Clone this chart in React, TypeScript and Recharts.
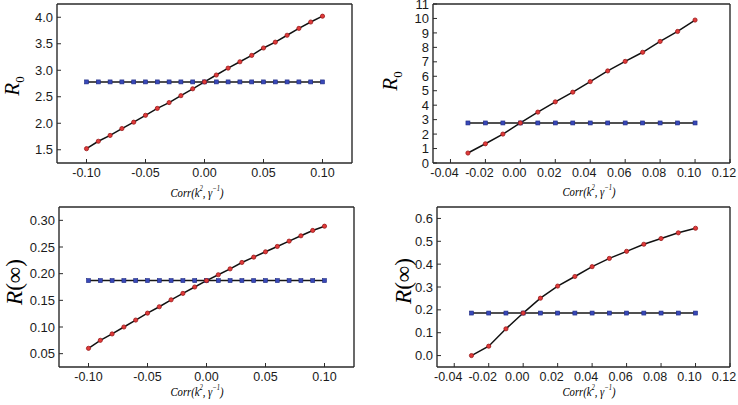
import React from 'react';
import { LineChart, Line, XAxis, YAxis } from 'recharts';

// ---------- data ----------
const xsWide = [-0.1, -0.09, -0.08, -0.07, -0.06, -0.05, -0.04, -0.03, -0.02, -0.01, 0.0, 0.01, 0.02, 0.03, 0.04, 0.05, 0.06, 0.07, 0.08, 0.09, 0.1];
const xsNarrow = [-0.03, -0.02, -0.01, 0.0, 0.01, 0.02, 0.03, 0.04, 0.05, 0.06, 0.07, 0.08, 0.09, 0.1];

const r0Wide = [1.52, 1.66, 1.77, 1.9, 2.02, 2.15, 2.28, 2.39, 2.52, 2.65, 2.78, 2.91, 3.04, 3.16, 3.28, 3.42, 3.53, 3.66, 3.79, 3.91, 4.02];
const r0WideBase = [2.78, 2.78, 2.78, 2.78, 2.78, 2.78, 2.78, 2.78, 2.78, 2.78, 2.78, 2.78, 2.78, 2.78, 2.78, 2.78, 2.78, 2.78, 2.78, 2.78, 2.78];

const r0Narrow = [0.69, 1.33, 2.0, 2.77, 3.52, 4.23, 4.9, 5.63, 6.37, 7.03, 7.66, 8.41, 9.1, 9.89];
const r0NarrowBase = [2.77, 2.77, 2.77, 2.77, 2.77, 2.77, 2.77, 2.77, 2.77, 2.77, 2.77, 2.77, 2.77, 2.77];

const rInfWide = [0.06, 0.075, 0.087, 0.1, 0.113, 0.126, 0.138, 0.151, 0.163, 0.175, 0.187, 0.198, 0.209, 0.221, 0.231, 0.241, 0.251, 0.261, 0.271, 0.281, 0.289];
const rInfWideBase = [0.187, 0.187, 0.187, 0.187, 0.187, 0.187, 0.187, 0.187, 0.187, 0.187, 0.187, 0.187, 0.187, 0.187, 0.187, 0.187, 0.187, 0.187, 0.187, 0.187, 0.187];

const rInfNarrow = [0.0, 0.041, 0.117, 0.186, 0.251, 0.304, 0.346, 0.389, 0.425, 0.456, 0.487, 0.512, 0.537, 0.557];
const rInfNarrowBase = [0.186, 0.186, 0.186, 0.186, 0.186, 0.186, 0.186, 0.186, 0.186, 0.186, 0.186, 0.186, 0.186, 0.186];

// ---------- ticks ----------
const xTicksWide = [-0.1, -0.05, 0, 0.05, 0.1];
const xMinorWide = [-0.075, -0.025, 0.025, 0.075];
const xTicksNarrow = [-0.04, -0.02, 0, 0.02, 0.04, 0.06, 0.08, 0.1, 0.12];
const xMinorNarrow = [-0.05, -0.03, -0.01, 0.01, 0.03, 0.05, 0.07, 0.09, 0.11];

const yTicksA = [1.5, 2.0, 2.5, 3.0, 3.5, 4.0];
const yMinorA = [1.75, 2.25, 2.75, 3.25, 3.75];
const yTicksB = [0, 1, 2, 3, 4, 5, 6, 7, 8, 9, 10, 11];
const yMinorB = [0.5, 1.5, 2.5, 3.5, 4.5, 5.5, 6.5, 7.5, 8.5, 9.5, 10.5];
const yTicksC = [0.05, 0.1, 0.15, 0.2, 0.25, 0.3];
const yMinorC = [0.075, 0.125, 0.175, 0.225, 0.275];
const yTicksD = [0.0, 0.1, 0.2, 0.3, 0.4, 0.5, 0.6];
const yMinorD = [-0.05, 0.05, 0.15, 0.25, 0.35, 0.45, 0.55];

const build = (xs: number[], a: number[], b: number[]) => xs.map((x, i) => ({ x, red: a[i], blue: b[i] }));

const AX = '#2a2a2a';
const xTickFont = { fontSize: 12.5, fill: '#1a1a1a', fontFamily: '"Liberation Sans", Arial, sans-serif' };
const yTickFont = { fontSize: 13, fill: '#1a1a1a', fontFamily: '"Liberation Sans", Arial, sans-serif' };

const RedDot = (p: any) => {
  if (p.cx == null || p.cy == null) return <g key={`r${p.index}`} />;
  return <circle key={`r${p.index}`} cx={p.cx} cy={p.cy} r={2.1} fill="#e03a3a" stroke="#9a1a1a" strokeWidth={0.8} />;
};
const BlueSq = (p: any) => {
  if (p.cx == null || p.cy == null) return <g key={`b${p.index}`} />;
  return <rect key={`b${p.index}`} x={p.cx - 2} y={p.cy - 2} width={4} height={4} fill="#3848b8" stroke="#1e2a80" strokeWidth={0.6} />;
};

type PanelProps = {
  left: number; top: number; width: number; height: number;
  margin: { top: number; right: number; bottom: number; left: number };
  data: { x: number; red: number; blue: number }[];
  xDomain: [number, number]; yDomain: [number, number];
  xTicks: number[]; xMinor: number[]; yTicks: number[]; yMinor: number[];
  xDigits: number; yDigits: number; xLabelDx: number;
};

function Panel(p: PanelProps) {
  const axLine = { stroke: AX, strokeWidth: 1.4 };
  const tl = { stroke: AX, strokeWidth: 1 };
  // every axis takes 1px of space; remove it from the margins so the plot area stays put
  const m = { top: p.margin.top - 2, right: p.margin.right - 2, bottom: p.margin.bottom - 2, left: p.margin.left - 2 };
  return (
    <div style={{ position: 'absolute', left: p.left, top: p.top }}>
      <LineChart width={p.width} height={p.height} data={p.data} margin={m}>
        <XAxis xAxisId="b" dataKey="x" type="number" domain={p.xDomain} allowDataOverflow ticks={p.xTicks} interval={0}
          tickFormatter={(v: number) => v.toFixed(p.xDigits)} height={1} tickSize={-4} tickMargin={9}
          axisLine={axLine} tickLine={tl} tick={{ ...xTickFont, dx: p.xLabelDx }} />
        <XAxis xAxisId="bm" dataKey="x" type="number" domain={p.xDomain} allowDataOverflow ticks={p.xMinor} interval={0}
          height={1} tickSize={-2} tick={false} axisLine={false} tickLine={tl} />
        <XAxis xAxisId="t" orientation="top" dataKey="x" type="number" domain={p.xDomain} allowDataOverflow ticks={p.xTicks} interval={0}
          height={1} tickSize={-4} tick={false} axisLine={axLine} tickLine={tl} />
        <XAxis xAxisId="tm" orientation="top" dataKey="x" type="number" domain={p.xDomain} allowDataOverflow ticks={p.xMinor} interval={0}
          height={1} tickSize={-2} tick={false} axisLine={false} tickLine={tl} />
        <YAxis yAxisId="l" type="number" domain={p.yDomain} allowDataOverflow ticks={p.yTicks} interval={0}
          tickFormatter={(v: number) => v.toFixed(p.yDigits)} width={1} tickSize={-4} tickMargin={8}
          axisLine={axLine} tickLine={tl} tick={yTickFont} />
        <YAxis yAxisId="lm" type="number" domain={p.yDomain} allowDataOverflow ticks={p.yMinor} interval={0}
          width={1} tickSize={-2} tick={false} axisLine={false} tickLine={tl} />
        <YAxis yAxisId="r" orientation="right" type="number" domain={p.yDomain} allowDataOverflow ticks={p.yTicks} interval={0}
          width={1} tickSize={-4} tick={false} axisLine={axLine} tickLine={tl} />
        <YAxis yAxisId="rm" orientation="right" type="number" domain={p.yDomain} allowDataOverflow ticks={p.yMinor} interval={0}
          width={1} tickSize={-2} tick={false} axisLine={false} tickLine={tl} />
        <Line xAxisId="b" yAxisId="l" type="linear" dataKey="blue" stroke="#161616" strokeWidth={1.5} dot={BlueSq} activeDot={false} isAnimationActive={false} />
        <Line xAxisId="b" yAxisId="l" type="linear" dataKey="red" stroke="#111111" strokeWidth={1.5} dot={RedDot} activeDot={false} isAnimationActive={false} />
      </LineChart>
    </div>
  );
}

const xTitleStyle: React.CSSProperties = {
  position: 'absolute', whiteSpace: 'nowrap', lineHeight: 1,
  fontFamily: '"Liberation Serif", "Times New Roman", serif', fontStyle: 'italic', fontSize: 13, color: '#000',
};

function XTitle({ cx, cy }: { cx: number; cy: number }) {
  return (
    <div style={{ ...xTitleStyle, left: cx, top: cy, transform: 'translate(-50%, -50%) scaleX(0.82)' }}>
      Corr(k<sup style={{ fontSize: 8 }}>2</sup>, γ<sup style={{ fontSize: 8 }}>−1</sup>)
    </div>
  );
}

function YTitle({ cx, cy, kind }: { cx: number; cy: number; kind: 'r0' | 'rinf' }) {
  return (
    <div style={{
      position: 'absolute', left: cx, top: cy, transform: 'translate(-50%, -50%) rotate(-90deg)', whiteSpace: 'nowrap',
      lineHeight: 1, fontFamily: '"Liberation Serif", "Times New Roman", serif', fontSize: kind === 'r0' ? 21 : 23, color: '#000',
    }}>
      {kind === 'r0'
        ? <span><i>R</i><sub style={{ fontSize: 13 }}>0</sub></span>
        : <span><i>R</i>(∞)</span>}
    </div>
  );
}

export default function App() {
  return (
    <div style={{ position: 'fixed', left: 0, top: 0, width: 738, height: 405, background: '#fff', overflow: 'hidden' }}>
      <Panel left={0} top={0} width={369} height={200} margin={{ top: 4, right: 17, bottom: 37, left: 57 }}
        data={build(xsWide, r0Wide, r0WideBase)} xDomain={[-0.125, 0.125]} yDomain={[1.25, 4.25]}
        xTicks={xTicksWide} xMinor={xMinorWide} yTicks={yTicksA} yMinor={yMinorA} xDigits={2} yDigits={1} xLabelDx={0} />
      <Panel left={369} top={0} width={369} height={200} margin={{ top: 4, right: 8, bottom: 37, left: 64 }}
        data={build(xsNarrow, r0Narrow, r0NarrowBase)} xDomain={[-0.05, 0.12]} yDomain={[0, 11]}
        xTicks={xTicksNarrow} xMinor={xMinorNarrow} yTicks={yTicksB} yMinor={yMinorB} xDigits={2} yDigits={0} xLabelDx={-6} />
      <Panel left={0} top={200} width={369} height={205} margin={{ top: 7, right: 15, bottom: 38, left: 59 }}
        data={build(xsWide, rInfWide, rInfWideBase)} xDomain={[-0.125, 0.125]} yDomain={[0.025, 0.325]}
        xTicks={xTicksWide} xMinor={xMinorWide} yTicks={yTicksC} yMinor={yMinorC} xDigits={2} yDigits={2} xLabelDx={0} />
      <Panel left={369} top={200} width={369} height={205} margin={{ top: 7, right: 8, bottom: 38, left: 68 }}
        data={build(xsNarrow, rInfNarrow, rInfNarrowBase)} xDomain={[-0.05, 0.12]} yDomain={[-0.05, 0.65]}
        xTicks={xTicksNarrow} xMinor={xMinorNarrow} yTicks={yTicksD} yMinor={yMinorD} xDigits={2} yDigits={1} xLabelDx={-6} />
      <XTitle cx={197} cy={192} />
      <XTitle cx={589} cy={191} />
      <XTitle cx={197} cy={391} />
      <XTitle cx={589} cy={391} />
      <YTitle cx={14} cy={86} kind="r0" />
      <YTitle cx={392} cy={81} kind="r0" />
      <YTitle cx={14} cy={282} kind="rinf" />
      <YTitle cx={403} cy={281} kind="rinf" />
    </div>
  );
}
